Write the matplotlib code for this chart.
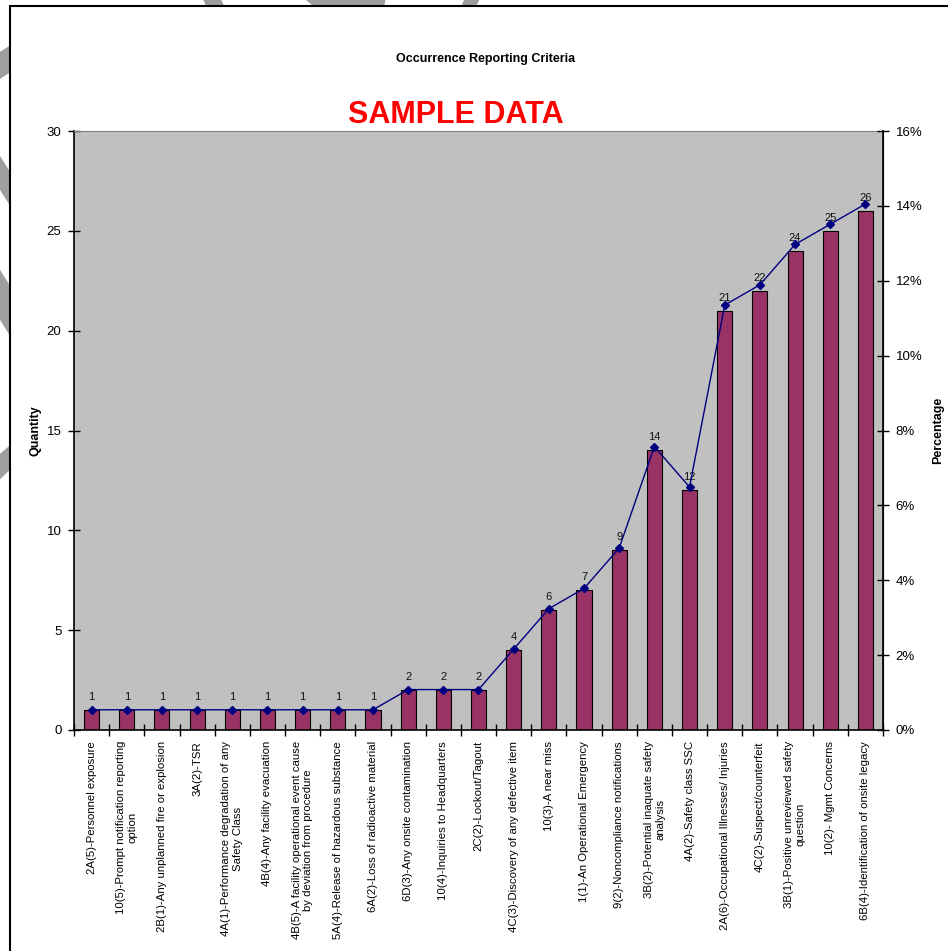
import matplotlib
matplotlib.use("Agg")
import matplotlib.pyplot as plt
import matplotlib.patches as mpatches
from matplotlib.ticker import FixedLocator, FuncFormatter
import numpy as np

plt.rcParams['font.family'] = ['Liberation Sans', 'DejaVu Sans']

# Occurrence categories, in plotted order
categories = [
    '2A(5)-Personnel exposure',
    '10(5)-Prompt notification reporting\noption',
    '2B(1)-Any unplanned fire or explosion',
    '3A(2)-TSR',
    '4A(1)-Performance degradation of any\nSafety Class',
    '4B(4)-Any facility evacuation',
    '4B(5)-A facility operational event cause\nby deviation from procedure',
    '5A(4)-Release of hazardous substance',
    '6A(2)-Loss of radioactive material',
    '6D(3)-Any onsite contamination',
    '10(4)-Inquiries to Headquarters',
    '2C(2)-Lockout/Tagout',
    '4C(3)-Discovery of any defective item',
    '10(3)-A near miss',
    '1(1)-An Operational Emergency',
    '9(2)-Noncompliance notifications',
    '3B(2)-Potential inaquate safety\nanalysis',
    '4A(2)-Safety class SSC',
    '2A(6)-Occupational Illnesses/ Injuries',
    '4C(2)-Suspect/counterfeit',
    '3B(1)-Positive unreviewed safety\nquestion',
    '10(2)- Mgmt Concerns',
    '6B(4)-Identification of onsite legacy',
]

# number of occurrences per category
quantity = [1, 1, 1, 1, 1, 1, 1, 1, 1, 2, 2, 2, 4, 6, 7, 9, 14, 12, 21, 22, 24, 25, 26]

# share of all occurrences, in percent
percentage = [0.54, 0.54, 0.54, 0.54, 0.54, 0.54, 0.54, 0.54, 0.54,
              1.08, 1.08, 1.08, 2.16, 3.24, 3.78, 4.86, 7.57, 6.49,
              11.35, 11.89, 12.97, 13.51, 14.05]

W, H = 948, 951


def fx(x):
    return x / W


def fy(y):
    return 1 - y / H


fig = plt.figure(figsize=(W / 100, H / 100), dpi=100)

# grey stamp strokes peeking out behind the page border
stroke_color = '#9e9e9e'
strokes = [
    [(-5, 55), (14, 43), (14, 70), (-5, 82)],
    [(-5, 148), (14, 178), (14, 212), (-5, 182)],
    [(-5, 262), (14, 292), (14, 342), (-5, 312)],
    [(-5, 458), (14, 442), (14, 466), (-5, 484)],
    [(201, -5), (219, -5), (226, 10), (208, 10)],
    [(300, -5), (386, -5), (384, 10), (318, 10)],
    [(466, -5), (482, -5), (474, 10), (460, 10)],
]
for pts in strokes:
    fig.patches.append(mpatches.Polygon([(fx(x), fy(y)) for x, y in pts],
                                        closed=True, transform=fig.transFigure,
                                        facecolor=stroke_color, edgecolor='none',
                                        zorder=-3))

# page border
fig.patches.append(mpatches.Rectangle((fx(10), fy(970)), fx(975) - fx(10), fy(6) - fy(970),
                                      transform=fig.transFigure, facecolor='white',
                                      edgecolor='black', linewidth=1.5, zorder=-2))

ax = fig.add_axes([fx(74), fy(730), fx(883) - fx(74), fy(131) - fy(730)])
ax.set_facecolor('#c0c0c0')

x = np.arange(len(categories))
bars = ax.bar(x, quantity, width=0.43, color='#993366', edgecolor='black',
              linewidth=0.8, zorder=2)

for xi, q in zip(x, quantity):
    ax.annotate(str(q), (xi, q), xytext=(0, 9.5), textcoords='offset points',
                ha='center', va='center', fontsize=8, color='#111111', zorder=5)

ax.set_xlim(-0.5, len(categories) - 0.5)
ax.set_ylim(0, 30)
ax.set_yticks([0, 5, 10, 15, 20, 25, 30])
ax.tick_params(axis='y', direction='inout', length=8, width=1, labelsize=9.5, pad=5)

ax.set_xticks(x)
ax.set_xticklabels(categories, rotation=90, fontsize=8.2, ha='center', va='top',
                   multialignment='center')
ax.tick_params(axis='x', which='major', length=0, pad=8)
ax.xaxis.set_minor_locator(FixedLocator(np.arange(-0.5, len(categories), 1.0)))
ax.tick_params(axis='x', which='minor', direction='inout', length=8, width=1)

ax.spines['top'].set_color('#808080')
ax.spines['left'].set_linewidth(1.2)
ax.spines['bottom'].set_linewidth(1.2)
ax.set_ylabel('Quantity', fontsize=9, fontweight='bold', labelpad=4)

# cumulative share on the secondary axis
ax2 = ax.twinx()
ax2.plot(x, np.array(percentage) / 100, color='#000080', linewidth=1,
         marker='D', markersize=4, zorder=4)
ax2.set_ylim(0, 0.16)
ax2.set_yticks(np.arange(0, 0.161, 0.02))
ax2.yaxis.set_major_formatter(FuncFormatter(lambda v, _: f'{v * 100:.0f}%'))
ax2.tick_params(axis='y', direction='inout', length=8, width=1, labelsize=9.5, pad=5)
ax2.spines['right'].set_linewidth(1.2)
ax2.spines['top'].set_visible(False)
ax2.spines['left'].set_visible(False)
ax2.spines['bottom'].set_visible(False)
ax2.set_ylabel('Percentage', fontsize=9, fontweight='bold', labelpad=7)

fig.text(fx(486), fy(59), 'Occurrence Reporting Criteria', ha='center', va='center',
         fontsize=9, fontweight='bold')
fig.text(fx(456), fy(115), 'SAMPLE DATA', ha='center', va='center',
         fontsize=22, fontweight='bold', color='red')

fig.savefig('out.png', dpi=100)
